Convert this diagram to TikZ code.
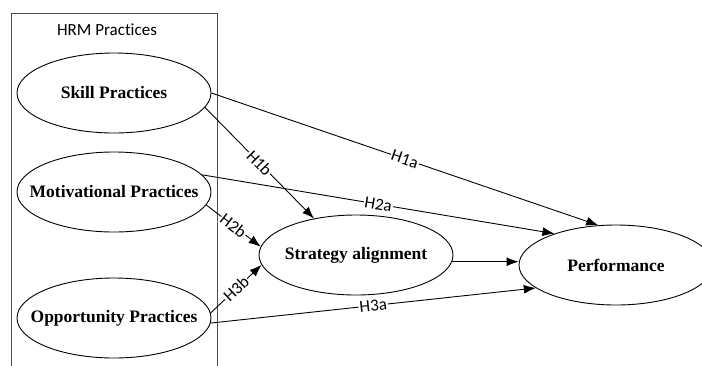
\documentclass[tikz,border=0pt]{standalone}
\usepackage{fontspec}
\setmainfont{Liberation Serif}
\newfontfamily\lblfont[Ligatures=NoCommon]{Carlito}
\usetikzlibrary{arrows.meta,shapes.geometric}
\tikzset{
  ell/.style={draw, ellipse, line width=0.9pt, minimum width=194pt, minimum height=80pt, inner sep=0pt,
    font=\fontsize{17.5}{20}\selectfont\bfseries},
  conn/.style={draw, line width=0.9pt, -{Latex[length=12pt,width=9pt]}},
  lbl/.style={fill=white, inner sep=1pt, sloped, pos=0.5, font=\lblfont\fontsize{17}{19}\selectfont},
  grp/.style={draw=black!70, line width=1pt}
}
\begin{document}
\begin{tikzpicture}[x=1pt,y=-1pt]
\useasboundingbox (0,0) rectangle (702,365);
\clip (0,0) rectangle (702,365);
\draw[grp] (11,13) rectangle (217,400);
\node[font=\lblfont\fontsize{17}{19}\selectfont] (hrm) at (107,30) {HRM Practices};
\node[ell] (skill) at (114,93) {\makebox[0pt]{Skill Practices}};
\node[ell] (mot) at (114,192) {\makebox[0pt]{Motivational Practices}};
\node[ell] (opp) at (114,318) {\makebox[0pt]{Opportunity Practices}};
\node[ell] (strat) at (356,255) {\makebox[0pt]{Strategy alignment}};
\node[ell] (perf) at (616,265) {\makebox[0pt]{Performance}};
\draw[conn] (skill.0) -- node[lbl] {H1a} (perf.114);
\draw[conn] (skill.-9) -- node[lbl] {H1b} (strat.139);
\draw[conn] (mot.11) -- node[lbl] {H2a} (perf.153);
\draw[conn] (mot.-8) -- node[lbl] {H2b} (strat.175);
\draw[conn] (opp.3) -- node[lbl] {H3b} (strat.186);
\draw[conn] (opp.-3) -- node[lbl] {H3a} (perf.196);
\draw[conn] (strat.-4) -- (strat.-4 -| perf.west);
\end{tikzpicture}
\end{document}
